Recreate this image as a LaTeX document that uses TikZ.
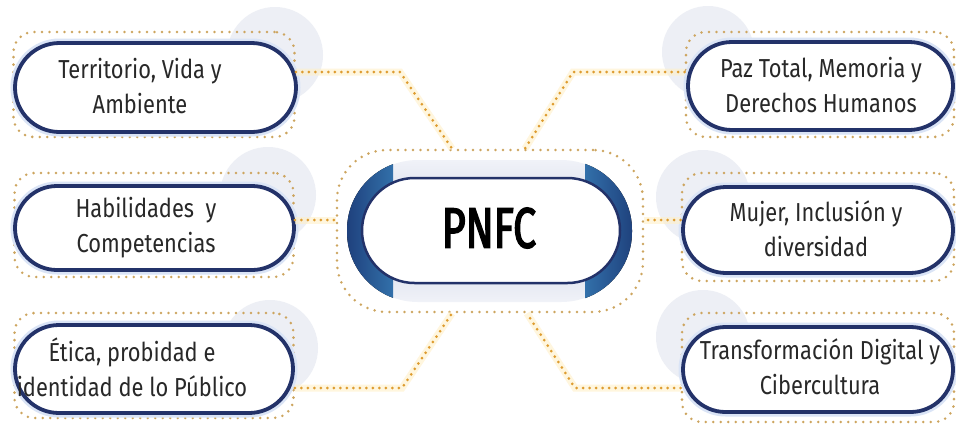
\documentclass[tikz,border=0pt]{standalone}
\usepackage{fontspec}
\setmainfont{Fira Sans}
\newfontfamily\boxfont[FakeStretch=0.84]{Fira Sans}
\newfontfamily\titlefont[FakeStretch=0.72,FakeBold=2.5]{Fira Sans}
\usetikzlibrary{shapes.misc,calc}
\definecolor{navy}{RGB}{35,50,105}
\definecolor{dotcol}{RGB}{205,165,95}
\definecolor{conncol}{RGB}{222,156,48}
\definecolor{glowcol}{RGB}{255,240,200}
\definecolor{halo}{RGB}{218,228,246}
\definecolor{circfill}{RGB}{237,239,245}
\definecolor{capdark}{RGB}{28,58,118}
\definecolor{caplight}{RGB}{50,112,170}
\definecolor{bandcol}{RGB}{205,211,228}
\definecolor{bandlight}{RGB}{240,242,248}
\definecolor{txtcol}{RGB}{40,40,40}
\tikzset{
  dotframe/.style={rectangle, rounded corners=20pt, draw=dotcol, line width=2.8pt,
    dash pattern=on 0pt off 7.5pt, line cap=round, inner sep=0pt},
  pillbox/.style={rounded rectangle, draw=navy, line width=3.8pt, fill=white, inner sep=0pt,
    preaction={draw=halo, line width=9pt}},
  boxtext/.style={font=\boxfont\fontsize{26}{35}\selectfont, text=txtcol, align=center, inner sep=0pt},
  connector/.style={draw=conncol, line width=3pt, dash pattern=on 0pt off 6.5pt, line cap=round,
    preaction={draw=glowcol, line width=7pt, dash pattern=, opacity=0.6}},
}
\begin{document}
\begin{tikzpicture}[x=1pt,y=-1pt]
\fill[white] (0,0) rectangle (956,426);
\useasboundingbox (0,0) rectangle (956,426);

% decorative circles
\fill[circfill] (275,55) circle[radius=48pt];
\fill[circfill] (268,195) circle[radius=48pt];
\fill[circfill] (270,348) circle[radius=48pt];
\fill[circfill] (708,52) circle[radius=46pt];
\fill[circfill] (703,197) circle[radius=47pt];
\fill[circfill] (703,337) circle[radius=47pt];

% bend coordinates
\coordinate (k1) at (400,72);
\coordinate (k3) at (402,388);
\coordinate (k4) at (573,72);
\coordinate (k6) at (575,388);
\coordinate (ymid) at (0,220);

% central node
\node[dotframe, rounded corners=50pt, minimum width=306pt, minimum height=162pt] (od) at (490,231) {};
\node[rounded rectangle, minimum width=285pt, minimum height=142pt, inner sep=0pt,
      top color=bandlight, bottom color=bandlight, middle color=bandcol] (cp) at (489.5,231) {};
\begin{scope}
  \clip[rounded corners=70pt] (347,160) rectangle (632,302);
  \fill[left color=capdark, right color=caplight] (340,150) rectangle (393,312);
  \fill[left color=caplight, right color=capdark] (585,150) rectangle (640,312);
\end{scope}
\node[rounded rectangle, minimum width=258pt, minimum height=105pt, draw=navy, line width=2.5pt, fill=white, inner sep=0pt] (ip) at (491,230.5) {};
\node[font=\titlefont\fontsize{57}{60}\selectfont, text=black, inner sep=0pt] (title) at (489,228) {PNFC};

% outer boxes: dotted frames
\node[dotframe, minimum width=281pt, minimum height=105pt] (o1) at (154,84.5) {};
\node[dotframe, minimum width=279pt, minimum height=104pt] (o2) at (154,225) {};
\node[dotframe, minimum width=279pt, minimum height=105pt] (o3) at (154,365.5) {};
\node[dotframe, minimum width=268pt, minimum height=105pt] (o4) at (820,84.5) {};
\node[dotframe, minimum width=272pt, minimum height=108pt] (o5) at (818,227) {};
\node[dotframe, minimum width=272pt, minimum height=109pt] (o6) at (818,367.5) {};

% pills
\node[pillbox, minimum width=281pt, minimum height=89pt] (p1) at (155.5,87.5) {};
\node[pillbox, minimum width=279pt, minimum height=84pt] (p2) at (154.5,228) {};
\node[pillbox, minimum width=278pt, minimum height=88pt] (p3) at (154,369) {};
\node[pillbox, minimum width=265pt, minimum height=88pt] (p4) at (820.5,86) {};
\node[pillbox, minimum width=270pt, minimum height=86pt] (p5) at (818,230) {};
\node[pillbox, minimum width=270pt, minimum height=85pt] (p6) at (818,369.5) {};

% texts
\node[boxtext] (t1) at (140,86) {Territorio, Vida y\\Ambiente};
\node[boxtext] (t2) at (146,228) {Habilidades\ \ y\\Competencias};
\node[boxtext] (t3) at (132,367) {Ética, probidad e\\identidad de lo Público};
\node[boxtext] (t4) at (821,85) {Paz Total, Memoria y\\Derechos Humanos};
\node[boxtext] (t5) at (816,229) {Mujer, Inclusión y\\diversidad};
\node[boxtext] (t6) at (820,367) {Transformación Digital y\\Cibercultura};

% connectors
\draw[connector] (o1.east |- k1) -- (k1) -- ([xshift=-38pt]od.north);
\draw[connector] (o2.east |- ymid) -- (od.west |- ymid);
\draw[connector] (o3.east |- k3) -- (k3) -- ([xshift=-38pt]od.south);
\draw[connector] (o4.west |- k4) -- (k4) -- ([xshift=35pt]od.north);
\draw[connector] (o5.west |- ymid) -- (od.east |- ymid);
\draw[connector] (o6.west |- k6) -- (k6) -- ([xshift=37pt]od.south);
\end{tikzpicture}
\end{document}
